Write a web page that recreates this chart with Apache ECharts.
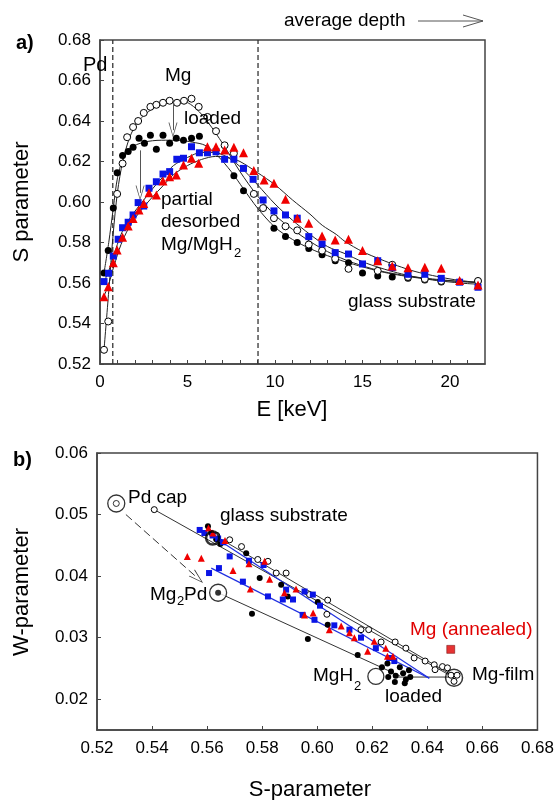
<!DOCTYPE html>
<html><head><meta charset="utf-8">
<script src="https://cdn.jsdelivr.net/npm/echarts@6/dist/echarts.min.js"></script>
<style>html,body{margin:0;padding:0;background:#fff}#c{width:557px;height:800px}</style>
</head><body><div id="c"></div><script>
// ---------- Panel a) : S parameter vs positron energy ----------
const openMg = [[0.23,0.527],[0.47,0.541],[0.98,0.604],[1.29,0.619],[1.55,0.632],[1.89,0.637],[2.18,0.640],[2.5,0.644],[2.88,0.647],[3.22,0.648],[3.6,0.649],[3.98,0.650],[4.4,0.649],[4.8,0.650],[5.23,0.651],[5.64,0.647],[6.14,0.642],[6.63,0.635],[7.12,0.628],[7.65,0.624],[8.79,0.604],[9.32,0.597],[9.94,0.592],[10.6,0.588],[11.27,0.586],[11.93,0.579],[12.69,0.576],[13.44,0.572],[14.2,0.567],[15.87,0.566],[16.7,0.569],[17.6,0.563],[18.56,0.562],[19.5,0.561],[21.6,0.561]];
const loadedMg = [[0.23,0.565],[0.47,0.576],[0.76,0.597],[0.98,0.6145],[1.29,0.623],[1.61,0.625],[1.89,0.627],[2.23,0.6315],[2.54,0.629],[2.88,0.633],[3.22,0.626],[3.6,0.633],[3.98,0.629],[4.36,0.6315],[4.77,0.6305],[5.23,0.6315],[5.68,0.6325],[7.65,0.613],[8.2,0.6056],[9.94,0.587],[10.6,0.583],[11.27,0.580],[11.93,0.577],[12.69,0.574],[13.44,0.571],[14.2,0.570],[15.0,0.565],[15.87,0.5635],[16.7,0.563],[17.6,0.5623],[18.56,0.5615],[19.5,0.5605],[21.6,0.561]];
const blueS = [[0.23,0.5607],[0.49,0.5648],[0.76,0.5733],[1.04,0.5816],[1.29,0.5873],[1.61,0.590],[1.89,0.5936],[2.18,0.5997],[2.5,0.598],[2.8,0.6068],[3.22,0.610],[3.6,0.6138],[3.98,0.615],[4.39,0.6211],[4.77,0.6216],[5.23,0.6273],[5.68,0.6243],[6.14,0.6243],[6.63,0.6248],[7.12,0.6211],[7.65,0.6211],[8.2,0.6166],[8.75,0.6112],[9.32,0.601],[9.94,0.5956],[10.6,0.5936],[11.27,0.592],[11.93,0.5829],[12.69,0.5793],[13.44,0.575],[14.2,0.5743],[15.0,0.5694],[15.87,0.571],[16.7,0.5676],[17.6,0.5643],[18.56,0.5643],[19.5,0.5623],[20.55,0.5604],[21.6,0.5579]];
const redS = [[0.23,0.5532],[0.47,0.5582],[0.76,0.570],[0.98,0.5763],[1.29,0.5826],[1.61,0.5881],[1.89,0.5919],[2.23,0.596],[2.5,0.5993],[2.8,0.6046],[3.22,0.6035],[3.6,0.6104],[3.98,0.6125],[4.36,0.6133],[4.77,0.6183],[5.23,0.6216],[5.64,0.6191],[6.14,0.6273],[6.63,0.6273],[7.12,0.6257],[7.65,0.627],[8.2,0.6243],[8.79,0.6155],[9.38,0.6109],[9.94,0.6092],[10.6,0.6013],[11.27,0.592],[11.93,0.5895],[12.69,0.5832],[13.44,0.5812],[14.2,0.5816],[15.0,0.576],[15.87,0.571],[16.7,0.5684],[17.6,0.5675],[18.56,0.5678],[19.5,0.5673],[20.55,0.5612],[21.6,0.559]];
// fitted curves (knots)
const fitOpen = [[0.23,0.527],[0.5,0.556],[0.75,0.584],[1.0,0.605],[1.3,0.62],[1.7,0.632],[2.2,0.640],[3.0,0.646],[4.0,0.6495],[4.8,0.6495],[5.5,0.646],[6.2,0.639],[7.0,0.629],[8.0,0.615],[9.0,0.603],[10,0.5935],[11,0.5865],[12,0.5805],[13,0.5755],[14,0.5715],[15,0.5685],[16,0.566],[17,0.5643],[18,0.563],[19,0.562],[20,0.5612],[21,0.5606],[21.7,0.5602]];
const fitLoaded = [[0.23,0.565],[0.5,0.58],[0.76,0.597],[1.0,0.612],[1.3,0.621],[1.7,0.6265],[2.5,0.6295],[3.5,0.6305],[4.5,0.6305],[5.3,0.6295],[6.0,0.628],[6.7,0.623],[7.5,0.615],[8.2,0.6065],[9,0.597],[10,0.5875],[11,0.5815],[12,0.577],[13,0.5735],[14,0.5705],[15,0.568],[16,0.5657],[17,0.564],[18,0.5627],[19,0.5617],[20,0.561],[21,0.5605],[21.7,0.5602]];
const fitBlue = [[0.23,0.5605],[0.5,0.566],[0.8,0.574],[1.2,0.584],[1.6,0.5905],[2.0,0.5955],[2.5,0.601],[3.0,0.6065],[3.6,0.6125],[4.2,0.618],[5.0,0.622],[5.8,0.6245],[6.5,0.6245],[7.2,0.6225],[8.0,0.6175],[9.0,0.6085],[10,0.599],[11,0.591],[12,0.584],[13,0.578],[14,0.5745],[15,0.5705],[16,0.5675],[17,0.565],[18,0.563],[19,0.5615],[20,0.5605],[21,0.5597],[21.7,0.5594]];
const fitRed = [[0.23,0.5535],[0.5,0.5595],[0.8,0.5685],[1.2,0.579],[1.6,0.5865],[2.0,0.592],[2.5,0.5975],[3.0,0.6025],[3.6,0.608],[4.2,0.6135],[5.0,0.618],[5.8,0.621],[6.6,0.6225],[7.3,0.622],[8.0,0.62],[9.0,0.6145],[10,0.6085],[11,0.601],[12,0.594],[12.7,0.5885],[13.5,0.584],[14,0.5805],[15,0.5755],[16,0.5718],[17,0.5685],[18,0.5657],[19,0.5637],[20,0.562],[21,0.5608],[21.7,0.5602]];
const pdBoundary = [[0.73,0.52],[0.73,0.68]];
const glassBoundary = [[9.03,0.52],[9.03,0.68]];
const arrowsA = [[[4.17,0.6495],[4.17,0.6355]],[[2.29,0.6255],[2.29,0.6045]]];
const eLabels = [0,5,10,15,20];
const eTickMarks = [0,1,2,3,4,5,6,7,8,9,10,11,12,13,14,15,16,17,18,19,20,21];

// ---------- Panel b) : W vs S ----------
const bOpen = [[0.5408,0.0508],[0.5635,0.0466],[0.5682,0.0459],[0.5725,0.0448],[0.5784,0.0427],[0.5821,0.0424],[0.5851,0.0405],[0.5887,0.0405],[0.5972,0.0370],[0.6038,0.0361],[0.6035,0.0338],[0.6159,0.0313],[0.6187,0.0313],[0.6232,0.0293],[0.6283,0.0293],[0.6322,0.0283],[0.6352,0.0267],[0.6392,0.0262],[0.6425,0.0256],[0.6428,0.0248],[0.6455,0.0253],[0.6473,0.0251],[0.6486,0.0239],[0.6508,0.0239],[0.6497,0.0229]];
const bLoaded = [[0.5603,0.0481],[0.5615,0.0470],[0.5633,0.0460],[0.5648,0.0452],[0.5742,0.0437],[0.5791,0.0397],[0.5869,0.0386],[0.5893,0.0367],[0.6002,0.0358],[0.6038,0.0321],[0.5763,0.0339],[0.5966,0.0298],[0.6147,0.0272],[0.6235,0.0252],[0.6255,0.0258],[0.6268,0.0245],[0.6285,0.0238],[0.6300,0.0252],[0.6312,0.0242],[0.6322,0.0232],[0.6333,0.0247],[0.6258,0.0236],[0.6282,0.0228],[0.6318,0.0226],[0.6338,0.0236]];
const bBlue = [[0.5573,0.0475],[0.5590,0.0470],[0.5620,0.0466],[0.5640,0.0461],[0.5658,0.0455],[0.5682,0.0432],[0.5752,0.0425],[0.5805,0.0418],[0.5887,0.0378],[0.5954,0.0375],[0.5984,0.0370],[0.6010,0.0352],[0.5607,0.0405],[0.5643,0.0413],[0.5730,0.0391],[0.5821,0.0367],[0.5875,0.0362],[0.5912,0.0362],[0.5947,0.0337],[0.5990,0.0329],[0.6062,0.0320],[0.6117,0.0313],[0.6159,0.0300],[0.6213,0.0283],[0.6262,0.0267],[0.6280,0.0262]];
const bRed = [[0.5605,0.0478],[0.5621,0.0470],[0.5665,0.0458],[0.5752,0.0420],[0.5809,0.0424],[0.5827,0.0395],[0.5923,0.0379],[0.5881,0.0373],[0.5528,0.0432],[0.5579,0.0429],[0.5694,0.0409],[0.5757,0.0379],[0.5954,0.0337],[0.5985,0.0340],[0.6044,0.0313],[0.6087,0.0319],[0.6117,0.0308],[0.6135,0.0300],[0.6183,0.0278],[0.6207,0.0294],[0.6249,0.0283],[0.6255,0.0270],[0.6275,0.0270]];
const pdCap = [[0.527,0.0518]];
const mg2pd = [[0.564,0.0373]];
const mgh2 = [[0.6213,0.0237]];
const mgFilm = [[0.6497,0.0235]];
const glassRing = [[0.562,0.0462]];
const mgAnnealed = [[0.6485,0.0281]];
const bLinesBlack = [[[0.5408,0.0508],[0.6497,0.0235]],[[0.562,0.0468],[0.6497,0.0237]],[[0.564,0.0373],[0.630,0.0238]],[[0.628,0.0236],[0.6497,0.0236]]];
const bLinesBlue = [[[0.5615,0.0413],[0.6407,0.0234]],[[0.5645,0.0458],[0.6407,0.0234]]];
const dashArrowB = [[0.5305,0.0500],[0.5565,0.0397]];
const wTicks = [0.02,0.03,0.04,0.05,0.06];

const FONT = '"Liberation Sans", Arial, Helvetica, sans-serif';
const AX = '#444';
const vArrow = 'path://M0,20 L5,0 L10,20 L9,20 L5,3 L1,20 Z';

function scat(data, xi, sym, size, color, border, z) {
  return {type:'scatter', xAxisIndex:xi, yAxisIndex:xi, data, symbol:sym, symbolSize:size,
    itemStyle:{color:color, borderColor:border||color, borderWidth:border?1:0, opacity:1}, z:z||3, silent:true, animation:false};
}
function lineS(data, xi, color, width, type, z, smooth) {
  return {type:'line', xAxisIndex:xi, yAxisIndex:xi, data, symbol:'none', smooth:smooth||false,
    lineStyle:{color, width, type:type||'solid'}, z:z||2, silent:true, animation:false};
}

const series = [];
series.push(lineS(pdBoundary,0,'#333',1.3,[5,3],1));
series.push(lineS(glassBoundary,0,'#333',1.3,[5,3],1));
series.push(lineS(fitOpen,0,'#222',1,'solid',2,0.3));
series.push(lineS(fitLoaded,0,'#222',1,'solid',2,0.3));
series.push(lineS(fitBlue,0,'#222',1,'solid',2,0.3));
series.push(lineS(fitRed,0,'#222',1,'solid',2,0.3));
series.push(scat(loadedMg,0,'circle',7,'#000'));
series.push(scat(openMg,0,'circle',7,'#fff','#000'));
series.push(scat(blueS,0,'rect',7,'#0a14e6'));
series.push(scat(redS,0,'triangle',9,'#f00000'));
series.push({type:'line', xAxisIndex:0, yAxisIndex:0, data:[], symbol:'none', silent:true, animation:false,
  markLine:{silent:true, animation:false, symbol:['none',vArrow], symbolSize:[9,15],
    lineStyle:{color:'#555', width:1, type:'solid'}, label:{show:false},
    data: arrowsA.map(a=>[{coord:a[0]},{coord:a[1]}])}});

bLinesBlack.forEach(l=>series.push(lineS(l,1,'#333',1,'solid',2)));
bLinesBlue.forEach(l=>series.push(lineS(l,1,'#1f2fe0',1.2,'solid',2)));
series.push({type:'line', xAxisIndex:1, yAxisIndex:1, data:[], symbol:'none', silent:true, animation:false,
  markLine:{silent:true, animation:false, symbol:['none',vArrow], symbolSize:[9,15],
    lineStyle:{color:'#333', width:1, type:[8,4]}, label:{show:false},
    data:[[{coord:dashArrowB[0]},{coord:dashArrowB[1]}]]}});
series.push(scat(bLoaded,1,'circle',6,'#000'));
series.push(scat(bOpen,1,'circle',6,'#fff','#000'));
series.push(scat(bBlue,1,'rect',6,'#0a14e6'));
series.push(scat(bRed,1,'triangle',7,'#f00000'));
series.push({type:'scatter',xAxisIndex:1,yAxisIndex:1,data:glassRing,symbol:'circle',symbolSize:13,
  itemStyle:{color:'rgba(0,0,0,0)',borderColor:'#000',borderWidth:2.5},z:5,silent:true,animation:false});
series.push({type:'scatter',xAxisIndex:1,yAxisIndex:1,data:pdCap,symbol:'circle',symbolSize:17,
  itemStyle:{color:'#fff',borderColor:'#000',borderWidth:1.3},z:5,silent:true,animation:false});
series.push({type:'scatter',xAxisIndex:1,yAxisIndex:1,data:pdCap,symbol:'circle',symbolSize:6,
  itemStyle:{color:'#fff',borderColor:'#000',borderWidth:1},z:6,silent:true,animation:false});
series.push({type:'scatter',xAxisIndex:1,yAxisIndex:1,data:mg2pd,symbol:'circle',symbolSize:17,
  itemStyle:{color:'#fff',borderColor:'#000',borderWidth:1.3},z:5,silent:true,animation:false});
series.push({type:'scatter',xAxisIndex:1,yAxisIndex:1,data:mg2pd,symbol:'circle',symbolSize:6,
  itemStyle:{color:'#000'},z:6,silent:true,animation:false});
series.push({type:'scatter',xAxisIndex:1,yAxisIndex:1,data:mgh2,symbol:'circle',symbolSize:16,
  itemStyle:{color:'#fff',borderColor:'#000',borderWidth:1.3},z:5,silent:true,animation:false});
series.push({type:'scatter',xAxisIndex:1,yAxisIndex:1,data:mgFilm,symbol:'circle',symbolSize:17,
  itemStyle:{color:'rgba(0,0,0,0)',borderColor:'#000',borderWidth:1.5},z:6,silent:true,animation:false});
series.push({type:'scatter',xAxisIndex:1,yAxisIndex:1,data:mgAnnealed,symbol:'rect',symbolSize:8,
  itemStyle:{color:'#e00000',borderColor:'#600',borderWidth:0.6},z:5,silent:true,animation:false});

const lbl = {color:'#000', fontSize:17, fontFamily:FONT};
function T(text,x,y,opt){ opt=opt||{}; return {type:'text', x, y, rotation:opt.rot||0, z:100,
  style:{text, fontSize:opt.fs||19, fontFamily:FONT, fontWeight:opt.fw||'normal', fill:opt.fill||'#000',
  align:opt.align||'left', verticalAlign:'middle'}}; }

const graphic = [
  T('a)',16,43,{fw:'bold',fs:20}),
  T('average depth',284,21),
  {type:'line',shape:{x1:418,y1:21,x2:483,y2:21},style:{stroke:'#555',lineWidth:1},z:100},
  {type:'polyline',shape:{points:[[463,15],[483,21],[463,27]]},style:{stroke:'#555',lineWidth:1,fill:null},z:100},
  T('Pd',83,65,{fs:20}),
  T('Mg',165,76),
  T('loaded',184,119),
  T('partial',161,200),
  T('desorbed',161,222),
  T('Mg/MgH',161,245),
  T('2',234,253,{fs:13}),
  T('glass substrate',348,302),
  T('S parameter',22,202,{rot:Math.PI/2,align:'center',fs:22}),
  T('E [keV]',292,410,{align:'center',fs:22}),
  T('b)',13,460,{fw:'bold',fs:20}),
  T('Pd cap',128,498),
  T('glass substrate',220,516),
  T('Mg',150,595),
  T('2',177,601,{fs:13}),
  T('Pd',184,595),
  T('Mg (annealed)',410,630,{fill:'#e00000'}),
  T('Mg-film',472,675),
  T('MgH',313,676),
  T('2',354,686,{fs:13}),
  T('loaded',385,697),
  T('W-parameter',22,592,{rot:Math.PI/2,align:'center',fs:22}),
  T('S-parameter',310,790,{align:'center',fs:22})
];

const option = {
  animation:false,
  backgroundColor:'#fff',
  grid:[
    {left:100, top:40, width:385, height:324, show:true, borderColor:AX, borderWidth:1.5, backgroundColor:'transparent'},
    {left:97, top:453, width:443, height:277, show:true, borderColor:AX, borderWidth:1.5, backgroundColor:'transparent'}
  ],
  xAxis:[
    {type:'value', gridIndex:0, min:0, max:22, interval:1,
      axisLine:{show:true,lineStyle:{color:AX,width:1.5}},
      axisTick:{show:true,inside:true,length:4,customValues:eTickMarks,lineStyle:{color:AX}},
      axisLabel:Object.assign({margin:10, customValues:eLabels},lbl),
      splitLine:{show:false}},
    {type:'value', gridIndex:1, min:0.52, max:0.68, interval:0.02,
      axisLine:{show:true,lineStyle:{color:AX,width:1.5}},
      axisTick:{show:true,inside:true,length:4,lineStyle:{color:AX}},
      axisLabel:Object.assign({margin:10, formatter:v=>v.toFixed(2)},lbl),
      splitLine:{show:false}}
  ],
  yAxis:[
    {type:'value', gridIndex:0, min:0.52, max:0.68, interval:0.02,
      axisLine:{show:true,lineStyle:{color:AX,width:1.5}},
      axisTick:{show:true,inside:true,length:4,lineStyle:{color:AX}},
      axisLabel:Object.assign({margin:9, formatter:v=>v.toFixed(2)},lbl),
      splitLine:{show:false}},
    {type:'value', gridIndex:1, min:0.015, max:0.06,
      axisLine:{show:true,lineStyle:{color:AX,width:1.5}},
      axisTick:{show:true,inside:true,length:4,customValues:wTicks,lineStyle:{color:AX}},
      axisLabel:Object.assign({margin:9, customValues:wTicks, formatter:v=>v.toFixed(2)},lbl),
      splitLine:{show:false}}
  ],
  series,
  graphic
};
const chart = echarts.init(document.getElementById('c'), null, {renderer:'canvas'});
chart.setOption(option);
</script></body></html>
